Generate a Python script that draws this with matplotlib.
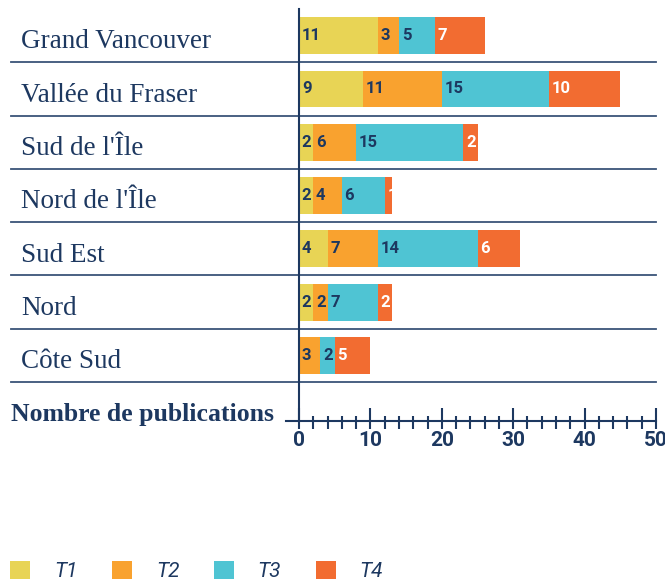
import matplotlib
matplotlib.use('Agg')
import matplotlib.pyplot as plt
from matplotlib.patches import Patch
from matplotlib.ticker import MultipleLocator
import numpy as np

# données
regions = ['Grand Vancouver', 'Vallée du Fraser', "Sud de l'Île", "Nord de l'Île",
           'Sud Est', 'Nord', 'Côte Sud']
t1 = [11, 9, 2, 2, 4, 2, 0]
t2 = [3, 11, 6, 4, 7, 2, 3]
t3 = [5, 15, 15, 6, 14, 7, 2]
t4 = [7, 10, 2, 1, 6, 2, 5]
series = ['T1', 'T2', 'T3', 'T4']
xticks = [0, 10, 20, 30, 40, 50]

colors = ['#e8d455', '#f9a22f', '#4fc4d3', '#f26c31']
label_colors = ['#1d3860', '#1d3860', '#1d3860', 'white']
navy = '#1d3860'

W, H = 665, 584
fig = plt.figure(figsize=(W / 100, H / 100), dpi=100)
ax = fig.add_axes([299 / W, 1 - 421 / H, 357 / W, 412 / H])

y = np.arange(len(regions))
left = np.zeros(len(regions))
for vals, name, c, lc in zip([t1, t2, t3, t4], series, colors, label_colors):
    vals = np.array(vals)
    bars = ax.barh(y, vals, left=left, height=0.69, color=c, label=name)
    for rect, v in zip(bars, vals):
        if v > 0:
            ax.annotate(str(v), (rect.get_x(), rect.get_y() + rect.get_height() / 2),
                        xytext=(2, 0), textcoords='offset points', va='center', ha='left',
                        color=lc, fontsize=12, fontweight='bold', family='Roboto')
    left += vals

ax.set_xlim(0, 50)
ax.set_ylim(7.23, -0.5)

# séparateurs
for sy in np.arange(0.5, len(regions)):
    ax.plot([-0.808, 1.0], [sy, sy], transform=ax.get_yaxis_transform(),
            clip_on=False, color='#3a5478', lw=1.3)

for i, r in enumerate(regions):
    ax.text(-0.779, i + 0.24, r, transform=ax.get_yaxis_transform(), ha='left', va='baseline',
            fontsize=19.5, color=navy, family='Liberation Serif')

for s in ['top', 'right', 'bottom']:
    ax.spines[s].set_visible(False)
ax.spines['left'].set_color(navy)
ax.spines['left'].set_linewidth(1.5)
ax.set_yticks([])

# axe x
ax.plot([-13 / 357, 1.0], [0, 0], transform=ax.transAxes, clip_on=False, color=navy, lw=1.5)
ax.set_xticks(xticks)
ax.xaxis.set_minor_locator(MultipleLocator(2))
ax.tick_params(axis='x', which='major', direction='in', length=9.6, width=1.5,
               color=navy, pad=7.5, labelsize=15, labelcolor=navy)
ax.tick_params(axis='x', which='minor', direction='in', length=3.6, width=1.5, color=navy)
for lab in ax.get_xticklabels():
    lab.set_fontweight('bold')
    lab.set_family('Roboto')

# petites graduations sous l'axe
sec = ax.secondary_xaxis('bottom')
sec.set_xticks(np.arange(0, 51, 2))
sec.tick_params(axis='x', direction='out', length=5.5, width=1.5, color=navy, labelbottom=False)
sec.spines['bottom'].set_visible(False)

fig.text(10.6 / W, 1 - 421 / H, 'Nombre de publications', ha='left', va='baseline',
         fontsize=18.5, fontweight='bold', color=navy, family='Liberation Serif')

handles = [Patch(facecolor=c, edgecolor='none') for c in colors]
leg = fig.legend(handles, series, loc='lower left', bbox_to_anchor=(10 / W, 3 / H),
                 ncol=4, frameon=False, borderpad=0, borderaxespad=0,
                 handlelength=0.96, handleheight=0.96, handletextpad=1.15,
                 columnspacing=1.65, prop={'family': 'Roboto', 'style': 'italic', 'size': 15})
for t in leg.get_texts():
    t.set_color(navy)

fig.savefig('out.png', dpi=100)
